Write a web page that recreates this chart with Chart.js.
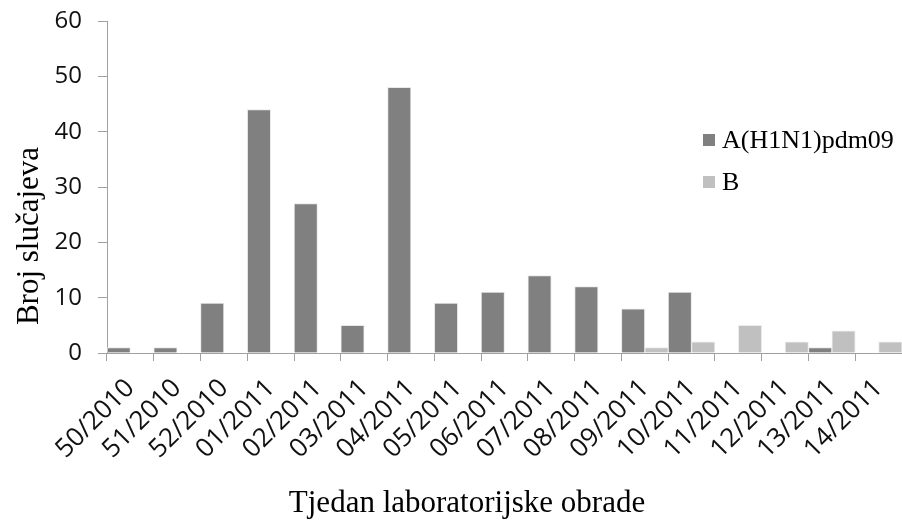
<!DOCTYPE html>
<html>
<head>
<meta charset="utf-8">
<script src="https://cdn.jsdelivr.net/npm/chart.js@4.4.1/dist/chart.umd.min.js"></script>
<style>
  html, body { margin: 0; padding: 0; background: #fff; overflow: hidden; }
  #wrap { width: 902px; height: 521px; position: relative; }
</style>
</head>
<body>
<div id="wrap"><canvas id="grafikon" width="902" height="521"></canvas></div>
<script>
// ===================== PODACI =====================

const tjedni = [
  "50/2010", "51/2010", "52/2010", "01/2011", "02/2011", "03/2011",
  "04/2011", "05/2011", "06/2011", "07/2011", "08/2011", "09/2011",
  "10/2011", "11/2011", "12/2011", "13/2011", "14/2011",
];
const h1n1 = [1, 1, 9, 44, 27, 5, 48, 9, 11, 14, 12, 8, 11, 0, 0, 1, 0];
const tipB = [0, 0, 0, 0, 0, 0, 0, 0, 0, 0, 0, 1, 2, 5, 2, 4, 2];
const nazivi = ["A(H1N1)pdm09", "B"];
const boje = ["#808080", "#c0c0c0"];
const yOznake = [0, 10, 20, 30, 40, 50, 60];

// ===================== NASLOVI I LEGENDA =====================

const nasloviPlugin = {
  id: "naslovi",
  afterDraw(chart) {
    const c = chart.ctx;
    c.save();
    c.fillStyle = "#000";
    c.font = "31px 'Liberation Serif', 'Times New Roman', serif";
    c.textAlign = "center";
    c.textBaseline = "alphabetic";
    c.fillText("Tjedan laboratorijske obrade", 467, 512);

    c.translate(38, 236);
    c.rotate(-Math.PI / 2);
    c.fillText("Broj slučajeva", 0, 0);
    c.restore();

    // legenda
    c.save();
    c.font = "26px 'Liberation Serif', 'Times New Roman', serif";
    c.textAlign = "left";
    c.textBaseline = "middle";
    const redovi = [140, 182];
    nazivi.forEach((n, i) => {
      c.fillStyle = boje[i];
      c.fillRect(703, redovi[i] - 6, 12, 12);
      c.fillStyle = "#000";
      c.fillText(n, 722, redovi[i] + 1);
    });
    c.restore();
  },
};

// ===================== GRAFIKON =====================

const ctx = document.getElementById("grafikon");

new Chart(ctx, {
  type: "bar",
  data: {
    labels: tjedni,
    datasets: [
      {
        label: nazivi[0],
        data: h1n1,
        backgroundColor: boje[0],
        borderColor: "#e8e8e8",
        borderWidth: 1,
        categoryPercentage: 1,
        barPercentage: 1,
      },
      {
        label: nazivi[1],
        data: tipB,
        backgroundColor: boje[1],
        borderColor: "#ececec",
        borderWidth: 1,
        categoryPercentage: 1,
        barPercentage: 1,
      },
    ],
  },
  options: {
    responsive: false,
    animation: false,
    devicePixelRatio: 1,
    layout: { padding: { left: 0, right: 0, top: 21, bottom: 0 } },
    plugins: {
      legend: { display: false },
      tooltip: { enabled: false },
    },
    scales: {
      x: {
        grid: {
          offset: true,
          drawOnChartArea: false,
          drawTicks: true,
          tickLength: 8,
          color: "#a0a0a0",
        },
        border: { color: "#a0a0a0", width: 1 },
        ticks: {
          autoSkip: false,
          minRotation: 45,
          maxRotation: 45,
          padding: 12,
          color: "#111",
          font: { family: "'Open Sans', sans-serif", size: 26 },
        },
        afterFit(scale) {
          scale.height = 168;
          scale.paddingLeft = 0;
          scale.paddingRight = 0;
        },
      },
      y: {
        min: 0,
        max: 60,
        afterBuildTicks(scale) {
          scale.ticks = yOznake.map((v) => ({ value: v }));
        },
        grid: {
          drawOnChartArea: false,
          drawTicks: true,
          tickLength: 9,
          color: "#a0a0a0",
        },
        border: { color: "#a0a0a0", width: 1 },
        ticks: {
          padding: 16,
          color: "#111",
          font: { family: "'Open Sans', sans-serif", size: 24 },
        },
        afterFit(scale) {
          scale.width = 107;
          scale.paddingTop = 0;
          scale.paddingBottom = 0;
        },
      },
    },
  },
  plugins: [nasloviPlugin],
});
</script>
</body>
</html>
